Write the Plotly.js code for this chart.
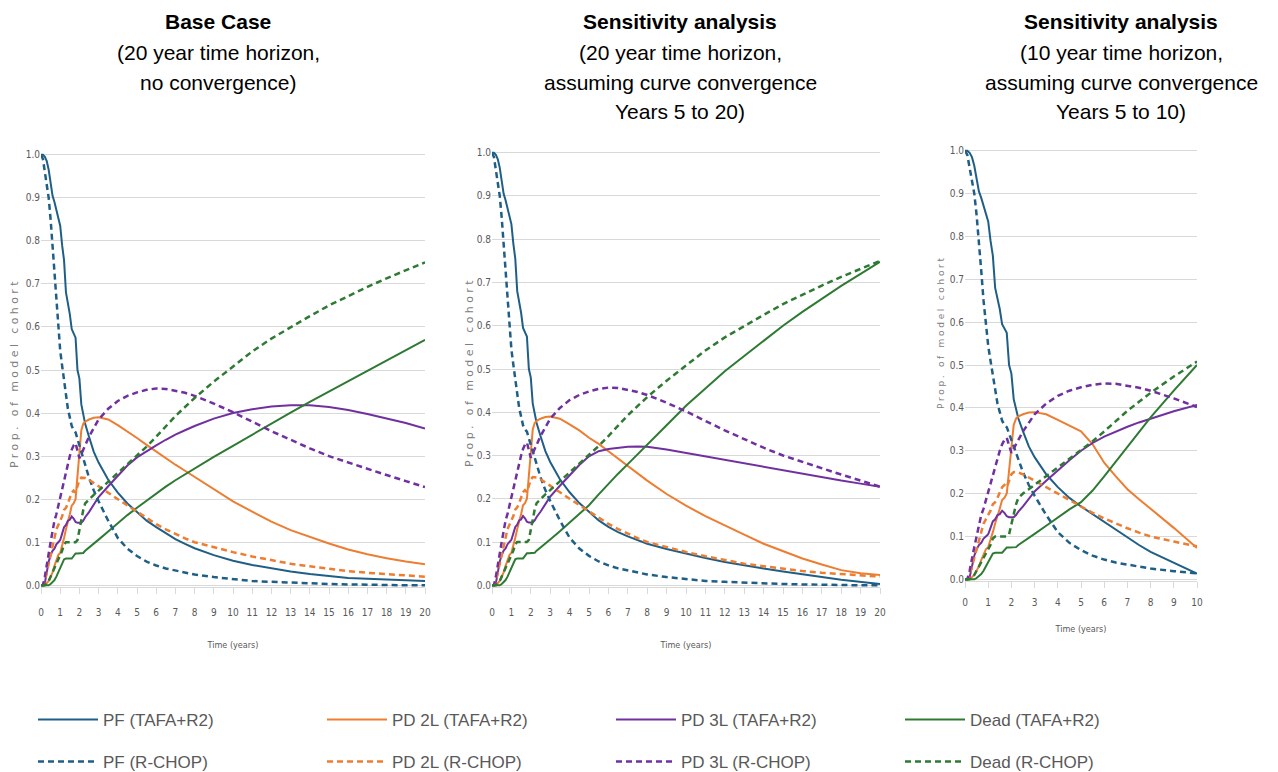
<!DOCTYPE html>
<html>
<head>
<meta charset="utf-8">
<script src="https://cdn.plot.ly/plotly-3.0.1.min.js"></script>
<style>html,body{margin:0;padding:0;background:#fff;}#chart{width:1278px;height:772px;}</style>
</head>
<body>
<div id="chart"></div>
<script>
// ---------- time grids (years) ----------
const tEarly = [0,0.1,0.2,0.3,0.4,0.5,0.6,0.7,0.8,0.9,1.0,1.1,1.2,1.3,1.4,1.5,1.6,1.7,1.8,1.9,2.0,2.1,2.2,2.3,2.5,2.75,3.0,3.5,4.0,4.5];
const tLate20 = [5,5.5,6,6.5,7,7.5,8,9,10,11,12,13,14,15,16,17,18,19,20];
const tLate10 = [5,5.5,6,6.5,7,7.5,8,9,10];

// ---------- R-CHOP (same in every scenario) ----------
const pfRchopEarly   = [1.0,0.99,0.96,0.93,0.9,0.85,0.79,0.72,0.65,0.59,0.545,0.51,0.475,0.44,0.41,0.39,0.37,0.36,0.355,0.34,0.325,0.305,0.29,0.275,0.25,0.22,0.195,0.15,0.11,0.085];
const pfRchopLate    = [0.068,0.055,0.046,0.039,0.034,0.029,0.025,0.019,0.014,0.01,0.008,0.006,0.004,0.003,0.002,0.001,0.001,0,0];
const pd2lRchopEarly = [0,0,0.01,0.03,0.05,0.07,0.09,0.11,0.13,0.14,0.15,0.16,0.175,0.18,0.19,0.205,0.215,0.22,0.215,0.23,0.245,0.25,0.25,0.249,0.245,0.238,0.23,0.215,0.2,0.185];
const pd2lRchopLate  = [0.17,0.155,0.142,0.13,0.119,0.109,0.1,0.088,0.077,0.067,0.058,0.05,0.044,0.038,0.033,0.029,0.026,0.023,0.02];
const pd3lRchopEarly = [0,0,0.02,0.05,0.075,0.1,0.125,0.15,0.165,0.185,0.205,0.225,0.245,0.262,0.28,0.3,0.315,0.325,0.33,0.31,0.295,0.305,0.315,0.325,0.345,0.365,0.385,0.41,0.428,0.44];
const pd3lRchopLate  = [0.448,0.454,0.457,0.456,0.452,0.447,0.44,0.422,0.402,0.38,0.358,0.338,0.318,0.3,0.285,0.27,0.256,0.242,0.228];
const deadRchopEarly = [0,0,0,0.005,0.01,0.02,0.03,0.04,0.05,0.06,0.07,0.08,0.095,0.1,0.1,0.1,0.1,0.1,0.1,0.105,0.13,0.155,0.175,0.19,0.2,0.21,0.22,0.24,0.26,0.28];
const deadRchopLate  = [0.3,0.322,0.345,0.37,0.393,0.414,0.435,0.473,0.508,0.543,0.573,0.6,0.625,0.65,0.672,0.693,0.713,0.732,0.75];

// ---------- TAFA+R2 : first 5 years (shared) ----------
const pfTafaEarly   = [1.0,1.0,0.995,0.985,0.965,0.93,0.905,0.89,0.87,0.85,0.835,0.79,0.755,0.68,0.655,0.63,0.595,0.585,0.575,0.5,0.48,0.42,0.395,0.375,0.345,0.31,0.285,0.245,0.215,0.19];
const pd2lTafaEarly = [0,0,0,0.005,0.01,0.02,0.03,0.045,0.06,0.07,0.075,0.09,0.11,0.13,0.145,0.165,0.185,0.19,0.2,0.255,0.31,0.36,0.375,0.38,0.385,0.389,0.39,0.385,0.372,0.358];
const pd3lTafaEarly = [0,0,0.005,0.03,0.055,0.07,0.08,0.085,0.095,0.1,0.105,0.12,0.135,0.14,0.15,0.152,0.16,0.155,0.147,0.145,0.145,0.145,0.15,0.158,0.17,0.188,0.205,0.23,0.255,0.278];
const deadTafaEarly = [0,0,0,0,0,0.003,0.008,0.012,0.02,0.03,0.04,0.05,0.06,0.062,0.062,0.062,0.062,0.068,0.074,0.074,0.074,0.074,0.075,0.08,0.088,0.097,0.106,0.125,0.145,0.163];

// ---------- TAFA+R2 : base case, years 5-20 ----------
const pfTafaBaseLate   = [0.17,0.15,0.135,0.12,0.107,0.096,0.086,0.07,0.057,0.047,0.039,0.032,0.026,0.021,0.017,0.015,0.013,0.011,0.01];
const pd2lTafaBaseLate = [0.342,0.326,0.31,0.295,0.28,0.266,0.252,0.223,0.195,0.171,0.148,0.128,0.112,0.097,0.083,0.072,0.063,0.055,0.049];
const pd3lTafaBaseLate = [0.297,0.312,0.325,0.338,0.35,0.36,0.37,0.387,0.4,0.409,0.415,0.418,0.418,0.414,0.407,0.398,0.388,0.377,0.364];
const deadTafaBaseLate = [0.18,0.197,0.213,0.229,0.244,0.258,0.272,0.298,0.324,0.35,0.376,0.401,0.426,0.45,0.474,0.498,0.522,0.546,0.57];

// ---------- TAFA+R2 : convergence years 5-20 ----------
const pfTafaConv20Late   = [0.17,0.15,0.135,0.123,0.113,0.104,0.096,0.084,0.073,0.063,0.054,0.046,0.039,0.032,0.025,0.019,0.013,0.008,0.003];
const pd2lTafaConv20Late = [0.341,0.327,0.31,0.293,0.276,0.259,0.242,0.211,0.184,0.16,0.138,0.117,0.096,0.079,0.062,0.048,0.035,0.028,0.024];
const pd3lTafaConv20Late = [0.298,0.31,0.315,0.318,0.32,0.321,0.32,0.314,0.306,0.298,0.29,0.282,0.273,0.265,0.257,0.25,0.242,0.235,0.228];
const deadTafaConv20Late = [0.185,0.21,0.235,0.258,0.28,0.303,0.325,0.37,0.415,0.455,0.495,0.53,0.565,0.6,0.632,0.663,0.692,0.72,0.748];

// ---------- TAFA+R2 : convergence years 5-10 ----------
const pfTafaConv10Late   = [0.17,0.152,0.133,0.115,0.097,0.08,0.064,0.038,0.013];
const pd2lTafaConv10Late = [0.345,0.315,0.272,0.24,0.21,0.187,0.165,0.12,0.073];
const pd3lTafaConv10Late = [0.3,0.318,0.333,0.345,0.356,0.366,0.375,0.392,0.407];
const deadTafaConv10Late = [0.18,0.207,0.24,0.275,0.31,0.345,0.378,0.44,0.5];

// ---------- labels ----------
const stateNames = ['PF','PD 2L','PD 3L','Dead'];
const armNames = ['TAFA+R2','R-CHOP'];
const panelTitles = [
  ['Base Case','(20 year time horizon,','no convergence)'],
  ['Sensitivity analysis','(20 year time horizon,','assuming curve convergence','Years 5 to 20)'],
  ['Sensitivity analysis','(10 year time horizon,','assuming curve convergence','Years 5 to 10)']
];
const yTitle = 'Prop. of model cohort';
const xTitle = 'Time (years)';

// ---------- styling ----------
const colors = ['#1f5f87','#ed7d31','#7030a0','#2e7a33'];
const W = 1278, H = 772;

const rchopEarly = [pfRchopEarly,pd2lRchopEarly,pd3lRchopEarly,deadRchopEarly];
const rchopLate  = [pfRchopLate,pd2lRchopLate,pd3lRchopLate,deadRchopLate];
const tafaEarly  = [pfTafaEarly,pd2lTafaEarly,pd3lTafaEarly,deadTafaEarly];
const scenarios = [
  {tLate:tLate20, tafaLate:[pfTafaBaseLate,pd2lTafaBaseLate,pd3lTafaBaseLate,deadTafaBaseLate]},
  {tLate:tLate20, tafaLate:[pfTafaConv20Late,pd2lTafaConv20Late,pd3lTafaConv20Late,deadTafaConv20Late]},
  {tLate:tLate10, tafaLate:[pfTafaConv10Late,pd2lTafaConv10Late,pd3lTafaConv10Late,deadTafaConv10Late]}
];

const traces = [];
scenarios.forEach((sc, p) => {
  const ax = p === 0 ? '' : String(p + 1);
  const xs = tEarly.concat(sc.tLate);
  const n = sc.tLate.length;
  for (let s = 0; s < 4; s++) {
    traces.push({
      type:'scatter', mode:'lines', x:xs, y:tafaEarly[s].concat(sc.tafaLate[s]),
      xaxis:'x'+ax, yaxis:'y'+ax, name:stateNames[s]+' ('+armNames[0]+')',
      line:{color:colors[s], width:2}, showlegend:p===0, legend:'legend', hoverinfo:'skip'
    });
  }
  for (let s = 0; s < 4; s++) {
    traces.push({
      type:'scatter', mode:'lines', x:xs, y:rchopEarly[s].concat(rchopLate[s].slice(0,n)),
      xaxis:'x'+ax, yaxis:'y'+ax, name:stateNames[s]+' ('+armNames[1]+')',
      line:{color:colors[s], width:2.5, dash:'6px,4px'}, showlegend:p===0, legend:'legend2', hoverinfo:'skip'
    });
  }
});

const narrow = 'Liberation Sans Narrow, DejaVu Sans Condensed, Arial Narrow, sans-serif';
function xAxis(px0, px1, maxT, tls, ts) {
  return {
    domain:[px0/W, px1/W], range:[0,maxT], dtick:1, tick0:0,
    showgrid:false, zeroline:false, showline:true, linecolor:'#d9d9d9', linewidth:1,
    ticks:'outside', ticklen:6, tickcolor:'#d9d9d9', ticklabelstandoff:tls,
    tickfont:{family:narrow, size:10, color:'#595959'},
    title:{text:xTitle, font:{family:narrow, size:9, color:'#595959'}, standoff:ts},
    fixedrange:true
  };
}
function yAxis(pyBottom, pyTop, anchor) {
  return {
    domain:[1 - pyBottom/H, 1 - pyTop/H], range:[-0.004,1.004], dtick:0.1, tick0:0, tickformat:'.1f',
    showgrid:true, gridcolor:'#d9d9d9', gridwidth:1, zeroline:false, showline:false, ticks:'',
    tickfont:{family:narrow, size:10, color:'#595959'},
    anchor:anchor, fixedrange:true
  };
}

const annotations = [];
const titleCenters = [218, 680, 1121];
const titleYs = [22, 52, 82, 111];
panelTitles.forEach((lines, p) => {
  lines.forEach((txt, i) => {
    annotations.push({
      xref:'paper', yref:'paper', x:titleCenters[p]/W, y:1 - titleYs[i]/H,
      xanchor:'center', yanchor:'middle', showarrow:false,
      text: i === 0 ? '<b>'+txt+'</b>' : txt,
      font:{family:'Liberation Sans, Arial, sans-serif', size:21, color:'#000'}
    });
  });
});
// rotated y-axis titles
const yTitlePos = [[15,373,11,3.4],[470,372,11,3.4],[941,332,9,2.7]];
yTitlePos.forEach(([px,py,fs,ls]) => {
  annotations.push({
    xref:'paper', yref:'paper', x:px/W, y:1 - py/H, xanchor:'center', yanchor:'middle',
    showarrow:false, textangle:-90,
    text:'<span style="letter-spacing:'+ls+'px">'+yTitle+'</span>',
    font:{family:'DejaVu Sans, sans-serif', size:fs, color:'#808080'}
  });
});

const legendCommon = {
  orientation:'h', x:33/W, xanchor:'left', yanchor:'middle', xref:'container', yref:'container',
  entrywidth:214, entrywidthmode:'pixels', itemwidth:60,
  font:{family:'Liberation Sans, Arial, sans-serif', size:17, color:'#595959'},
  bgcolor:'rgba(0,0,0,0)', borderwidth:0, traceorder:'normal', itemclick:false, itemdoubleclick:false
};

const layout = {
  width:W, height:H, margin:{l:0,r:0,t:0,b:0,autoexpand:false},
  paper_bgcolor:'#fff', plot_bgcolor:'#fff',
  xaxis: Object.assign(xAxis(41,425,20,10,24), {anchor:'y'}),
  yaxis: yAxis(587,153,'x'),
  xaxis2: Object.assign(xAxis(492,880,20,10,24), {anchor:'y2'}),
  yaxis2: yAxis(587,151,'x2'),
  xaxis3: Object.assign(xAxis(965,1197,10,6,18), {anchor:'y3'}),
  yaxis3: yAxis(581,149,'x3'),
  legend: Object.assign({}, legendCommon, {y:1 - 720/H}),
  legend2: Object.assign({}, legendCommon, {y:1 - 762/H}),
  annotations: annotations,
  showlegend:true
};

Plotly.newPlot('chart', traces, layout, {displayModeBar:false, responsive:false});
</script>
</body>
</html>
